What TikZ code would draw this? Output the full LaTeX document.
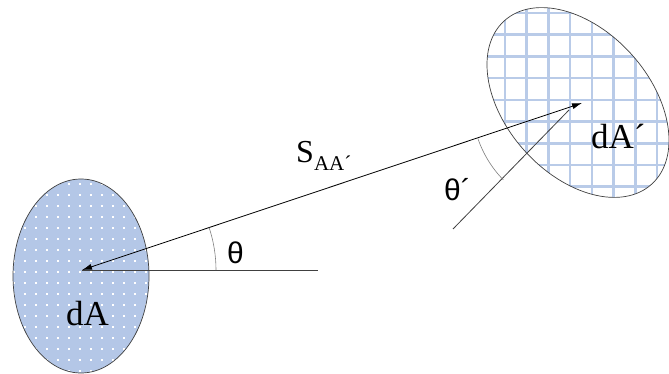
\documentclass[tikz,border=0pt]{standalone}
\usepackage{fontspec}
\setmainfont{Liberation Serif}
\newfontfamily\sansf{Liberation Sans}
\usetikzlibrary{arrows.meta}
\definecolor{fillblue}{HTML}{B4C7E7}
\definecolor{gridblue}{HTML}{B9CBE8}
\definecolor{edgegray}{HTML}{404040}
\tikzset{
  outline/.style={draw=edgegray, line width=0.7pt},
  connector/.style={draw=black, line width=0.8pt},
  guide/.style={draw=edgegray, line width=0.8pt},
  anglearc/.style={draw=gray, line width=0.6pt},
  serifbig/.style={font=\fontsize{35}{35}\selectfont, inner sep=0pt, anchor=base west},
  sansbig/.style={font=\sansf\fontsize{30}{30}\selectfont, inner sep=0pt, anchor=base west}
}
\begin{document}
\begin{tikzpicture}[x=1pt,y=1pt]
\useasboundingbox (0,0) rectangle (669,373);
\fill[white] (0,0) rectangle (669,373);
% key points
\coordinate (A) at (82,103);
\coordinate (B) at (582,270);
\coordinate (H) at (318,103);
\coordinate (N) at (453,144);
\coordinate (Ne) at (569,263);
\coordinate (C1) at (81,97);
\coordinate (C2) at (578,270.5);
% left surface
\begin{scope}
  \clip (C1) ellipse [x radius=68pt, y radius=97pt];
  \fill[fillblue] (0,0) rectangle (160,200);
  \foreach \i in {0,...,14}{
    \foreach \j in {0,...,18}{
      \fill[white] (12.8+11*\i, 0.8+11*\j) rectangle ++(2.4,2.4);
    }
  }
\end{scope}
\path[outline] (C1) ellipse [x radius=68pt, y radius=97pt];
% right surface
\begin{scope}
  \clip[rotate around={-48:(C2)}] (C2) ellipse [x radius=110pt, y radius=72pt];
  \foreach \k in {-2,...,8}{
    \draw[gridblue, line width=2.6pt] (505+21.7*\k, 150) -- (505+21.7*\k, 373);
  }
  \foreach \k in {-1,...,10}{
    \draw[gridblue, line width=2.6pt] (460, 360-21.7*\k) -- (669, 360-21.7*\k);
  }
\end{scope}
\path[outline, rotate around={-48:(C2)}] (C2) ellipse [x radius=110pt, y radius=72pt];
% lines
\path[guide] (A) -- (H);
\path[guide] (N) -- (Ne);
\path[connector, {Latex[length=10pt,width=6pt]}-{Latex[length=10pt,width=6pt]}] (A) -- (B);
% angle arcs
\path[anglearc] ([shift={(0:134pt)}]A) arc[start angle=0, end angle=18.47, radius=134pt];
\path[anglearc] ([shift={(198.47:110pt)}]B) arc[start angle=198.47, end angle=224.33, radius=110pt];
% labels
\node[sansbig] (th) at (227,110) {θ};
\node[sansbig] (thp) at (444,173) {θ´};
\node[serifbig] (dA) at (66,48) {dA};
\node[serifbig] (dAp) at (591,225) {dA´};
\node[inner sep=0pt, anchor=base west, font=\fontsize{32}{32}\selectfont] (S) at (296,211) {S\raisebox{-8pt}{\fontsize{21}{21}\selectfont AA´}};
\end{tikzpicture}
\end{document}
